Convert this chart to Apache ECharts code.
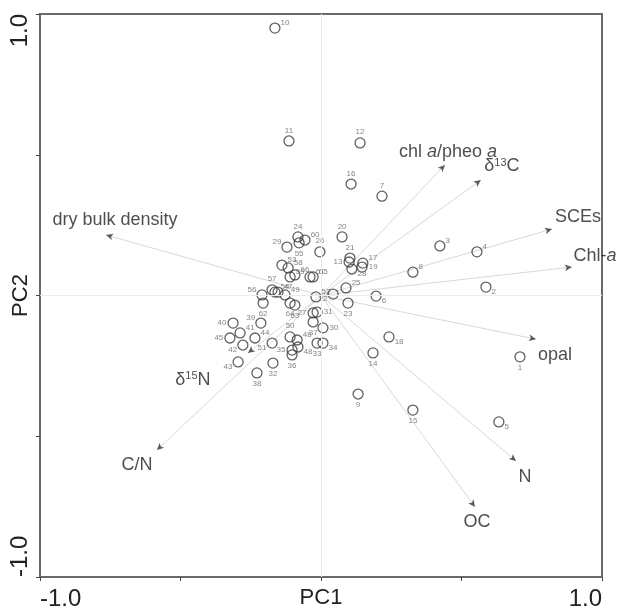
<!DOCTYPE html>
<html>
<head>
<meta charset="utf-8">
<script src="https://cdn.jsdelivr.net/npm/echarts@6/dist/echarts.min.js"></script>
<style>html,body{margin:0;padding:0;background:#fff}#c{width:618px;height:610px}</style>
</head>
<body>
<div id="c"></div>
<script>
// ---- data ----
const sampleIds = [1,2,3,4,5,6,7,8,9,10,11,12,13,14,15,16,17,18,19,20,21,22,23,24,25,26,27,28,29,30,31,32,33,34,35,36,37,38,39,40,41,42,43,44,45,46,47,48,49,50,51,52,53,54,55,56,57,58,59,60,61,62,63,64,65,66];
const samplePC1 = [0.708,0.587,0.423,0.555,0.633,0.196,0.217,0.327,0.132,-0.164,-0.114,0.139,0.100,0.185,0.327,0.107,0.149,0.242,0.146,0.075,0.103,0.043,0.096,-0.082,0.089,-0.004,-0.028,0.110,-0.121,0.007,-0.014,-0.171,-0.014,0.007,-0.103,-0.103,-0.028,-0.228,-0.214,-0.313,-0.288,-0.278,-0.295,-0.235,-0.324,-0.085,-0.153,-0.082,-0.128,-0.110,-0.174,-0.018,-0.139,-0.164,-0.078,-0.210,-0.174,-0.117,-0.110,-0.057,-0.039,-0.206,-0.093,-0.110,-0.028,-0.093];
const samplePC2 = [-0.218,0.030,0.176,0.155,-0.449,-0.002,0.353,0.083,-0.350,0.950,0.549,0.542,0.119,-0.204,-0.407,0.396,0.115,-0.147,0.101,0.208,0.133,0.005,-0.027,0.208,0.027,0.155,-0.062,0.094,0.172,-0.115,-0.059,-0.240,-0.169,-0.169,-0.194,-0.211,-0.094,-0.275,-0.098,-0.098,-0.133,-0.176,-0.236,-0.151,-0.151,-0.158,0.012,-0.183,0.002,-0.147,-0.169,-0.005,0.108,0.012,0.187,0.002,0.020,0.098,0.066,0.197,0.066,-0.027,-0.034,-0.027,0.066,0.073];
const varNames = ['dry bulk density','chl a/pheo a','δ13C','SCEs','Chl-a','opal','N','OC','C/N','δ15N'];
const varPC1 = [-0.765,0.441,0.569,0.822,0.893,0.765,0.694,0.548,-0.584,-0.260];
const varPC2 = [0.215,0.464,0.410,0.236,0.101,-0.155,-0.588,-0.751,-0.549,-0.204];
const xTickLabels = {'-1':'-1.0','1':'1.0'};
const yTickLabels = {'-1':'-1.0','1':'1.0'};
const xName = 'PC1', yName = 'PC2';

// ---- style (label placement) ----
const labelPlace = {
  top:[7,11,12,16,20,21,24,26,50,57],
  topRight:[3,4,8,10,17,60],
  bottomRight:[2,5,6,18,28,34,48],
  bottom:[1,9,14,15,23,32,33,36,37,38,55,62,63,64],
  left:[13,27,35,40,45],
  topLeft:[29,39,56],
  bottomLeft:[22,42,43,51],
  right:[19,30,31]
};
const placeOf = {};
Object.keys(labelPlace).forEach(k => labelPlace[k].forEach(id => placeOf[id] = k));
function labelCfg(id){
  const p = placeOf[id] || 'topRight';
  switch(p){
    case 'top': return {position:'top', distance:1};
    case 'bottom': return {position:'bottom', distance:1};
    case 'left': return {position:'left', distance:1};
    case 'right': return {position:'right', distance:1};
    case 'topRight': return {position:'right', distance:0, offset:[0,-5]};
    case 'bottomRight': return {position:'right', distance:0, offset:[0,5]};
    case 'topLeft': return {position:'left', distance:0, offset:[0,-5]};
    case 'bottomLeft': return {position:'left', distance:0, offset:[0,5]};
  }
}
const varLabelOffset = [[9,-15],[3,-13],[21,-14],[26,-12],[23,-11],[19,16],[9,16],[2,15],[-20,15],[-55,27]];
const richText = {
  'chl a/pheo a':'{n|chl }{i|a}{n|/pheo }{i|a}',
  'δ13C':'{n|δ}{s|13}{n|C}',
  'Chl-a':'{n|Chl-}{i|a}',
  'δ15N':'{n|δ}{s|15}{n|N}'
};
const FONT = '"Liberation Sans", Arial, sans-serif';

const pointData = sampleIds.map((id,i) => ({
  value:[samplePC1[i], samplePC2[i]], name:String(id),
  label:Object.assign({show:true, formatter:String(id)}, labelCfg(id))
}));
const lineData = varNames.map((n,i) => ({coords:[[0,0],[varPC1[i],varPC2[i]]]}));
const tipData = varNames.map((n,i) => {
  const ang = Math.atan2(varPC2[i], varPC1[i]) * 180 / Math.PI;
  return {value:[varPC1[i],varPC2[i]], name:n, symbolRotate: ang - 90};
});
const varLabelData = varNames.map((n,i) => ({
  value:[varPC1[i],varPC2[i]], name:n,
  label:{show:true, position:'inside', offset:varLabelOffset[i], formatter: richText[n] || ('{n|' + n + '}')}
}));

const chart = echarts.init(document.getElementById('c'), null, {renderer:'canvas'});
chart.setOption({
  animation:false,
  backgroundColor:'#fff',
  textStyle:{fontFamily:FONT},
  grid:{left:40, right:16, top:14, bottom:33, containLabel:false, outerBoundsMode:'none',
    show:true, borderColor:'#6a6a6a', borderWidth:2},
  xAxis:{
    type:'value', min:-1, max:1, interval:0.5,
    name:xName, nameLocation:'middle', nameGap:10, nameMoveOverlap:false,
    nameTextStyle:{fontSize:22, color:'#222', fontFamily:FONT, verticalAlign:'top'},
    axisLine:{show:true, onZero:false, lineStyle:{color:'#6a6a6a', width:2}},
    axisTick:{show:true, length:4, lineStyle:{color:'#444', width:1}},
    splitLine:{show:false},
    axisLabel:{show:true, fontSize:24, color:'#222', fontFamily:FONT, margin:10,
      formatter:v => xTickLabels[String(v)] || '', alignMinLabel:'left', alignMaxLabel:'right'}
  },
  yAxis:{
    type:'value', min:-1, max:1, interval:0.5,
    name:yName, nameLocation:'middle', nameGap:8, nameMoveOverlap:false,
    nameTextStyle:{fontSize:22, color:'#222', fontFamily:FONT, verticalAlign:'bottom'},
    axisLine:{show:true, onZero:false, lineStyle:{color:'#6a6a6a', width:2}},
    axisTick:{show:true, length:4, lineStyle:{color:'#444', width:1}},
    splitLine:{show:false},
    axisLabel:{show:true, fontSize:24, color:'#222', fontFamily:FONT, margin:8, rotate:90,
      formatter:v => yTickLabels[String(v)] || '', alignMinLabel:'left', alignMaxLabel:'right'}
  },
  series:[
    {
      type:'lines', coordinateSystem:'cartesian2d', silent:true, z:2,
      lineStyle:{color:'#d9d9d9', width:1, opacity:1},
      data:lineData,
      markLine:{silent:true, symbol:'none', label:{show:false},
        lineStyle:{color:'#ececec', type:'solid', width:1},
        data:[{xAxis:0},{yAxis:0}]}
    },
    {
      type:'scatter', silent:true, z:3, symbol:'arrow', symbolSize:[5,7],
      itemStyle:{color:'#333'}, data:tipData
    },
    {
      type:'scatter', silent:true, z:4, symbol:'circle', symbolSize:10,
      itemStyle:{color:'rgba(0,0,0,0)', borderColor:'#3a3a3a', borderWidth:1.3},
      label:{fontSize:8, color:'#666', fontFamily:FONT},
      data:pointData
    },
    {
      type:'scatter', silent:true, z:5, symbolSize:0,
      label:{align:'center', verticalAlign:'middle', fontFamily:FONT,
        rich:{
          n:{fontSize:18, color:'#222', fontFamily:FONT},
          i:{fontSize:18, color:'#222', fontStyle:'italic', fontFamily:FONT},
          s:{fontSize:11, color:'#222', fontFamily:FONT, verticalAlign:'top'}
        }},
      data:varLabelData
    }
  ]
});
</script>
</body>
</html>
